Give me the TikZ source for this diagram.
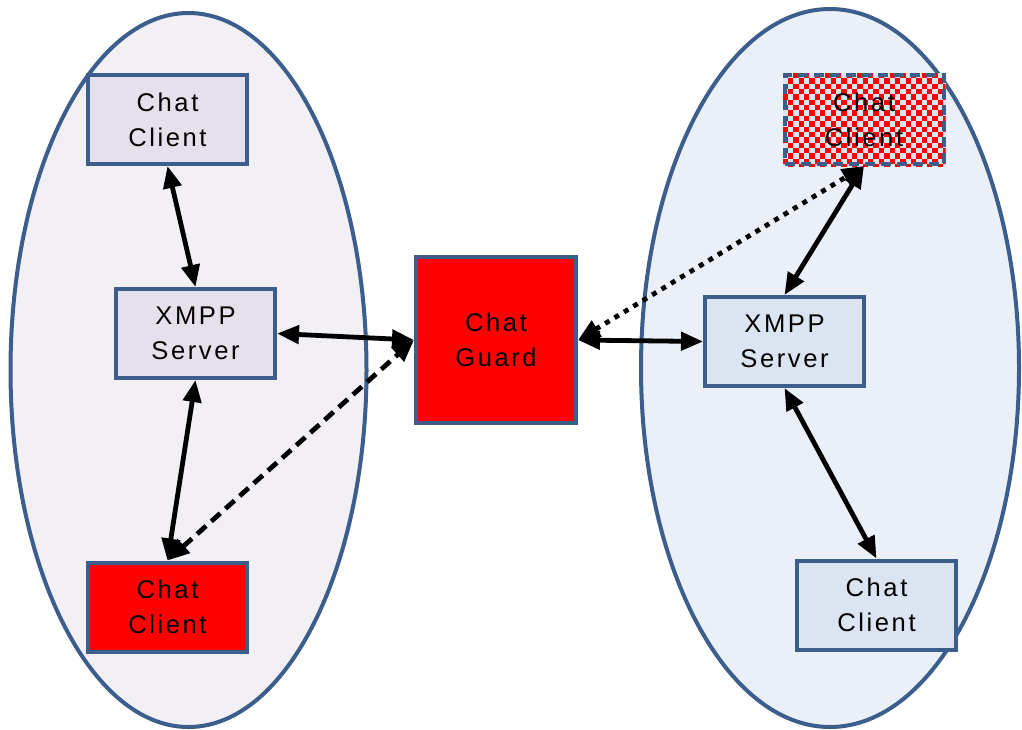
\documentclass[tikz,border=0pt]{standalone}
\usepackage{fontspec}
\setsansfont{Liberation Sans}[LetterSpace=10]
\usetikzlibrary{arrows.meta, backgrounds, calc}
\definecolor{edgeblue}{RGB}{59, 94, 140}
\definecolor{leftzone}{RGB}{242, 240, 245}
\definecolor{leftbox}{RGB}{229, 224, 236}
\definecolor{rightzone}{RGB}{235, 240, 248}
\definecolor{rightbox}{RGB}{219, 229, 241}
\definecolor{alert}{RGB}{255, 0, 0}
\tikzset{
  zone/.style={draw=edgeblue, line width=2pt},
  chatbox/.style={
    rectangle, draw=edgeblue, line width=2pt, inner sep=0pt,
    minimum width=79.5pt, minimum height=44.5pt, align=center,
    font=\sffamily\fontsize{12.8}{17.5}\selectfont
  },
  leftblock/.style={chatbox, fill=leftbox},
  rightblock/.style={chatbox, fill=rightbox},
  hotblock/.style={chatbox, fill=alert},
  fakeblock/.style={chatbox, dash pattern=on 5pt off 3pt},
  link/.style={
    draw=black, line width=2.4pt,
    {Triangle[length=11pt, width=9pt]}-{Triangle[length=11pt, width=9pt]}
  },
  dashedlink/.style={link, dash pattern=on 6pt off 3.5pt},
  dottedlink/.style={link, dash pattern=on 2.5pt off 3pt}
}
\begin{document}
\begin{tikzpicture}[x=0.5pt, y=-0.5pt]
  \useasboundingbox (0,0) rectangle (1022,729);

  % left domain
  \node[leftblock] (lclient) at (167.5,119.5) {Chat\\Client};
  \node[leftblock] (lserver) at (195.5,333.5) {XMPP\\Server};
  \node[hotblock] (lrogue) at (167.5,607) {Chat\\Client};

  % guard in between
  \node[hotblock, minimum width=80pt, minimum height=83pt] (guard) at (496,340) {Chat\\Guard};

  % right domain
  \node[fakeblock] (rfake) at (864,119.5) {Chat\\Client};
  \node[rightblock] (rserver) at (784.5,341.5) {XMPP\\Server};
  \node[rightblock] (rclient) at (876.5,605) {Chat\\Client};

  % the two chat domains and the checkered fill, behind the nodes
  \begin{scope}[on background layer]
    \draw[zone, fill=leftzone] (188.5,370) ellipse [x radius=178, y radius=357];
    \draw[zone, fill=rightzone] (830,368) ellipse [x radius=189, y radius=359];
    \fill[rightbox] (rfake.south west) rectangle (rfake.north east);
    \begin{scope}
      \clip (rfake.south west) rectangle (rfake.north east);
      \foreach \i in {0,...,30}
        \foreach \j in {0,...,17} {
          \pgfmathtruncatemacro\odd{mod(\i+\j,2)}
          \ifnum\odd=0
            \fill[alert] ($(rfake.north west)+(5.35*\i,5.35*\j)$) rectangle ++(5.35,5.35);
          \fi
        }
    \end{scope}
  \end{scope}

  \draw[link] (lclient.south) -- (lserver.north);
  \draw[link] (lserver.south) -- (lrogue.north);
  \draw[link] (lserver.east) -- (guard.west);
  \draw[dashedlink] (lrogue.north) -- (guard.west);
  \draw[link] (guard.east) -- (rserver.west);
  \draw[dottedlink] (guard.east) -- (rfake.south);
  \draw[link] (rserver.north) -- (rfake.south);
  \draw[link] (rserver.south) -- (rclient.north);
\end{tikzpicture}
\end{document}
